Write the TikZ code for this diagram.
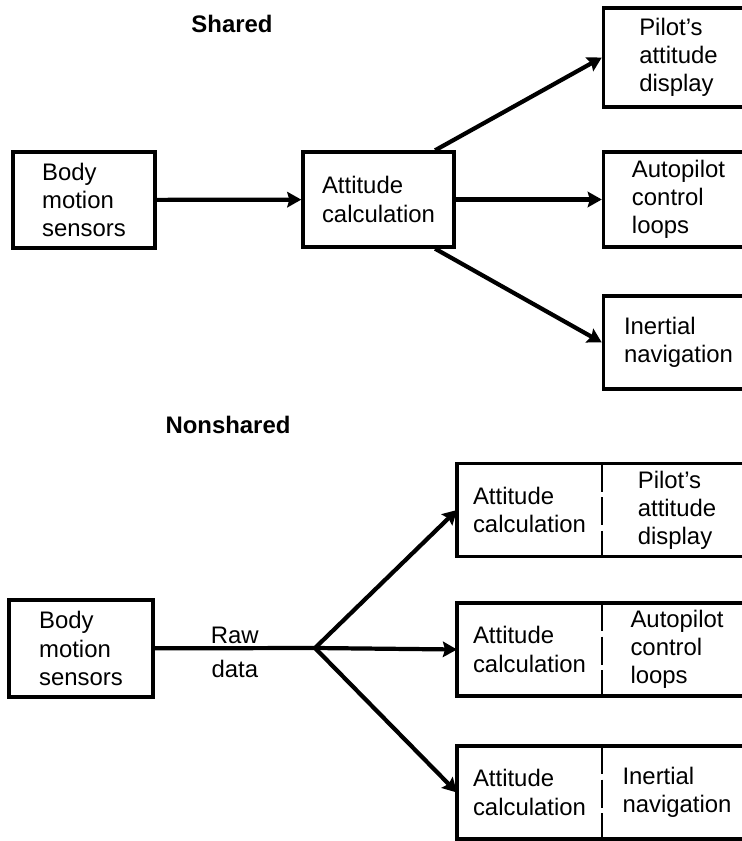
\documentclass[tikz,border=0pt]{standalone}
\usepackage{fontspec}
\setmainfont{Liberation Sans}
\usepackage{tikz}
\usetikzlibrary{arrows.meta, positioning}

\begin{document}
\begin{tikzpicture}[
    x=0.025cm, y=-0.025cm,
    box/.style={
        rectangle,
        draw=black,
        line width=2.4pt,
        minimum width=3.75cm,
        minimum height=2.375cm,
        font=\fontsize{17}{20}\selectfont,
        align=left
    },
    cell/.style={
        rectangle,
        outer sep=0pt,
        minimum height=2.325cm,
        font=\fontsize{17}{20}\selectfont,
        align=left
    },
    title/.style={font=\fontsize{17}{20}\selectfont\bfseries, anchor=base},
    edge/.style={-{Stealth[length=10pt, width=11pt, inset=1.5pt]}, line width=3pt, draw=black},
    feed/.style={line width=3pt, draw=black},
    outline/.style={line width=2.4pt, draw=black},
    divider/.style={line width=1.8pt, dash pattern=on 20pt off 4pt}
]
    \useasboundingbox (0,0) rectangle (742,841);

    % shared
    \node[title] (shared) at (232,33) {Shared};
    \node[box, minimum width=3.55cm, minimum height=2.4cm] (bms1) at (84,200) {Body\\motion\\sensors};
    \node[box, minimum width=3.775cm] (att1) at (378.5,199.5) {Attitude\\calculation};
    \node[box, minimum height=2.475cm] (pd1) at (678.5,57.5) {Pilot's\\attitude\\display};
    \node[box] (ap1) at (678.5,199.5) {Autopilot\\control\\loops};
    \node[box, minimum height=2.325cm] (in1) at (678.5,342.5) {Inertial\\navigation};

    \draw[edge] (bms1) -- (att1);
    \draw[edge] (att1.41) -- (pd1.west);
    \draw[edge] (att1) -- (ap1);
    \draw[edge] (att1.-41) -- (in1.west);

    % nonshared
    \node[title] (nonshared) at (228,433) {Nonshared};
    \node[box, minimum width=3.6cm, minimum height=2.425cm] (bms2) at (81,648.5) {Body\\motion\\sensors};

    \node[cell, minimum width=3.625cm] (ac1) at (529.5,510) {Attitude\\calculation};
    \node[cell, minimum width=3.75cm, right=0pt of ac1] (pd2) {Pilot's\\attitude\\display};
    \node[cell, minimum width=3.625cm] (ac2) at (529.5,649.5) {Attitude\\calculation};
    \node[cell, minimum width=3.75cm, right=0pt of ac2] (ap2) {Autopilot\\control\\loops};
    \node[cell, minimum width=3.625cm] (ac3) at (529.5,792.5) {Attitude\\calculation};
    \node[cell, minimum width=3.75cm, right=0pt of ac3] (in2) {Inertial\\navigation};

    \foreach \calc/\user in {ac1/pd2, ac2/ap2, ac3/in2} {
        \draw[outline] (\calc.south west) rectangle (\user.north east);
        \draw[divider] (\calc.north east) -- (\calc.south east);
    }

    \coordinate (fork) at (315,648);
    \draw[feed] (bms2) -- node[above=1.5pt, inner sep=0pt, font=\fontsize{17}{20}\selectfont]{Raw}
        node[below=7pt, inner sep=0pt, font=\fontsize{17}{20}\selectfont]{data} (fork);
    \draw[edge] (fork) -- (ac1.west);
    \draw[edge] (fork) -- (ac2.west);
    \draw[edge] (fork) -- (ac3.west);
\end{tikzpicture}
\end{document}
